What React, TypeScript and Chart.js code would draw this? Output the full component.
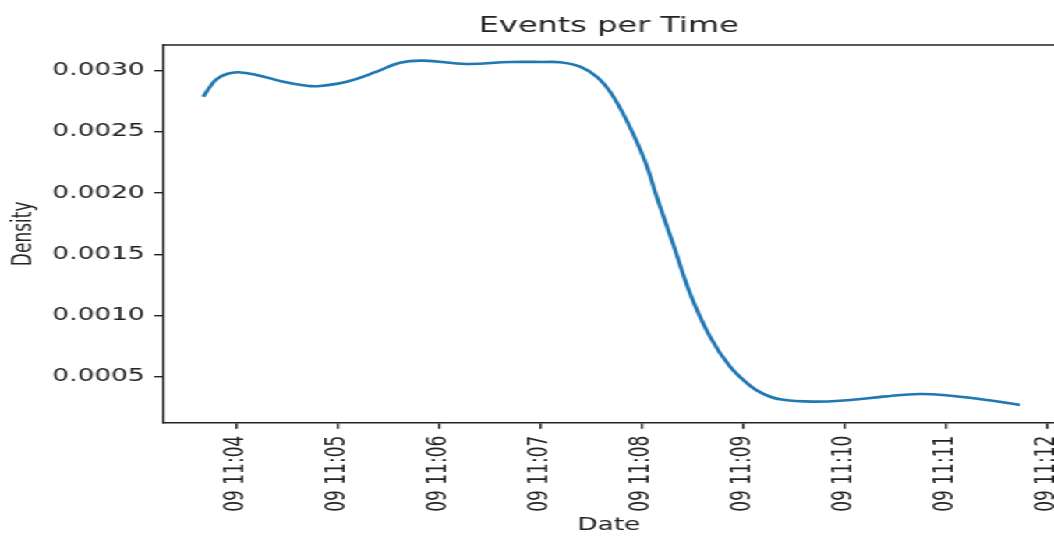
import { useEffect, useRef } from "react";
import { Chart, registerables } from "chart.js";

Chart.register(...registerables);

const CHART_TITLE = "Events per Time";
const X_TITLE = "Date";
const Y_TITLE = "Density";

// x values: minutes past 11:00 on day 09
const TIME_MINUTES = [
  3.674, 3.74, 3.807, 3.905, 4.02, 4.201, 4.464, 4.695, 4.826, 5.089, 5.385,
  5.615, 5.845, 6.274, 6.701, 7.029, 7.194, 7.392, 7.556, 7.688, 7.819, 7.951,
  8.05, 8.148, 8.312, 8.477, 8.674, 8.872, 9.071, 9.2, 9.365, 9.694, 10.056,
  10.384, 10.746, 11.075, 11.405, 11.733,
];
const DENSITY = [
  0.002788, 0.002869, 0.002932, 0.002973, 0.002987, 0.002965, 0.00291,
  0.002877, 0.002875, 0.00291, 0.002992, 0.003065, 0.003082, 0.003055,
  0.003071, 0.003071, 0.003069, 0.003033, 0.002951, 0.002828, 0.002645,
  0.002421, 0.002223, 0.00197, 0.00158, 0.001181, 0.000827, 0.000582,
  0.000425, 0.00036, 0.000315, 0.000296, 0.00031, 0.000337, 0.000359,
  0.000342, 0.00031, 0.000269,
];

const X_TICKS = [4, 5, 6, 7, 8, 9, 10, 11, 12];
const X_TICK_LABELS = [
  "09 11:04", "09 11:05", "09 11:06", "09 11:07", "09 11:08",
  "09 11:09", "09 11:10", "09 11:11", "09 11:12",
];
const Y_TICKS = [0.0005, 0.001, 0.0015, 0.002, 0.0025, 0.003];
const Y_TICK_LABELS = ["0.0005", "0.0010", "0.0015", "0.0020", "0.0025", "0.0030"];

const X_MIN = 3.2816;
const X_MAX = 12.069;
const Y_MIN = 0.000124;
const Y_MAX = 0.00321;

const W = 676;
const H = 536;
const STRETCH = 1054 / W;
const INK = "#222";
const FONT = "'DejaVu Sans', sans-serif";

export default function App() {
  const ref = useRef<HTMLCanvasElement | null>(null);

  useEffect(() => {
    document.body.style.overflow = "hidden";
    const canvas = ref.current;
    if (!canvas) return;

    const topSpine = {
      id: "topSpine",
      afterDraw(chart: any) {
        const { ctx, chartArea } = chart;
        ctx.save();
        ctx.strokeStyle = INK;
        ctx.lineWidth = 1.4;
        ctx.beginPath();
        ctx.moveTo(chartArea.left - 0.7, chartArea.top);
        ctx.lineTo(chartArea.right, chartArea.top);
        ctx.stroke();
        ctx.restore();
      },
    };

    const chart = new Chart(canvas, {
      type: "line",
      data: {
        datasets: [
          {
            data: TIME_MINUTES.map((x, i) => ({ x, y: DENSITY[i] })),
            borderColor: "#1f77b4",
            borderWidth: 2.6,
            pointRadius: 0,
            fill: false,
            tension: 0.4,
          },
        ],
      },
      options: {
        animation: false,
        responsive: false,
        devicePixelRatio: 1,
        layout: { padding: 0 },
        plugins: {
          legend: { display: false },
          tooltip: { enabled: false },
          title: {
            display: true,
            text: CHART_TITLE,
            fullSize: false,
            color: INK,
            font: { family: FONT, size: 20.5, weight: "normal" },
            padding: { top: 14.2, bottom: 6.2 },
          },
        },
        scales: {
          x: {
            type: "linear",
            min: X_MIN,
            max: X_MAX,
            afterBuildTicks: (axis: any) => {
              axis.ticks = X_TICKS.map((value) => ({ value }));
            },
            afterFit: (s: any) => {
              s.height = H - 422.7;
              s.paddingLeft = 0;
              s.paddingRight = 0;
            },
            border: { display: true, color: INK, width: 1.4 },
            grid: {
              drawOnChartArea: false,
              drawTicks: true,
              tickLength: 6,
              color: INK,
              lineWidth: 1.4,
            },
            ticks: {
              autoSkip: false,
              minRotation: 90,
              maxRotation: 90,
              padding: 7,
              color: INK,
              font: { family: FONT, size: 17 },
              callback: (v: any) => {
                const i = X_TICKS.indexOf(Number(v));
                return i >= 0 ? X_TICK_LABELS[i] : "";
              },
            },
            title: {
              display: true,
              text: X_TITLE,
              color: INK,
              font: { family: FONT, size: 17 },
              padding: { top: 0, bottom: 0 },
            },
          },
          y: {
            type: "linear",
            min: Y_MIN,
            max: Y_MAX,
            afterBuildTicks: (axis: any) => {
              axis.ticks = Y_TICKS.map((value) => ({ value }));
            },
            afterFit: (s: any) => {
              s.width = 104.9;
              s.paddingTop = 0;
              s.paddingBottom = 0;
            },
            border: { display: true, color: INK, width: 1.4 },
            grid: {
              drawOnChartArea: false,
              drawTicks: true,
              tickLength: 6,
              color: INK,
              lineWidth: 1.4,
            },
            ticks: {
              padding: 6,
              color: INK,
              font: { family: FONT, size: 17 },
              callback: (v: any) => {
                const i = Y_TICKS.findIndex((t) => Math.abs(t - Number(v)) < 1e-9);
                return i >= 0 ? Y_TICK_LABELS[i] : "";
              },
            },
            title: {
              display: true,
              text: Y_TITLE,
              color: INK,
              font: { family: FONT, size: 17 },
              padding: { top: 5.2, bottom: 0 },
            },
          },
        },
      },
      plugins: [topSpine],
    } as any);

    return () => chart.destroy();
  }, []);

  return (
    <div
      style={{
        position: "absolute",
        left: 0,
        top: 0,
        width: W,
        height: H,
        transform: `scaleX(${STRETCH})`,
        transformOrigin: "0 0",
        background: "#fff",
      }}
    >
      <canvas ref={ref} width={W} height={H} style={{ display: "block", width: W, height: H }} />
    </div>
  );
}
